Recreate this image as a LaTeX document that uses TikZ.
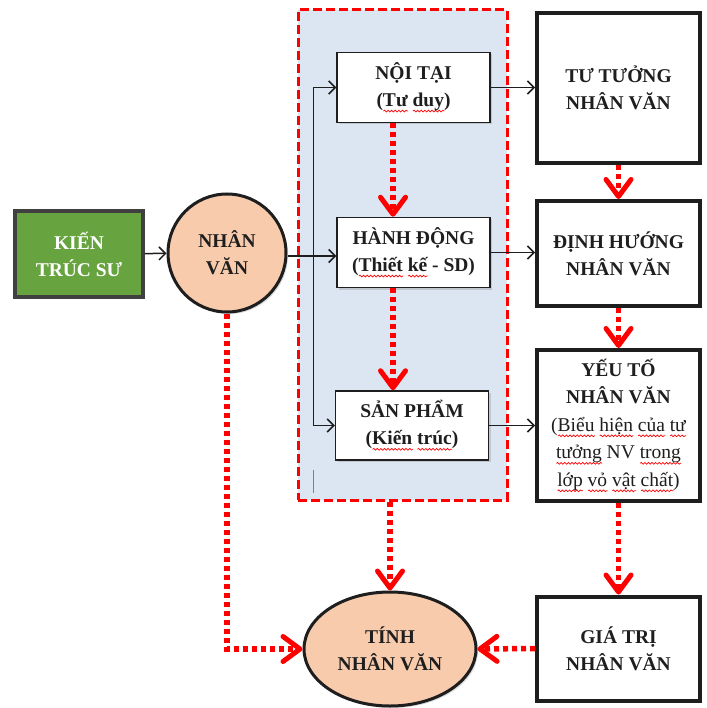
\documentclass[tikz,border=0pt]{standalone}
\usepackage{fontspec}
\setmainfont{Liberation Serif}
\usetikzlibrary{arrows.meta,shapes.geometric,shadows,decorations.pathmorphing}
\newsavebox\sqbox
\newlength\sqlen
\newcommand\sq[1]{\sbox\sqbox{#1}\setlength\sqlen{\wd\sqbox}\rlap{\tikz[baseline=0pt,x=1pt,y=1pt]\draw[red,line width=0.7pt,decorate,decoration={snake,amplitude=0.9pt,segment length=3.6pt}] (0,-4.5) -- (\sqlen,-4.5);}\usebox\sqbox}
\definecolor{kgreen}{HTML}{67A33F}
\definecolor{peach}{HTML}{F8CBAD}
\definecolor{pale}{HTML}{DCE6F2}
\definecolor{ink}{HTML}{1E1E1E}
\tikzset{
  basefont/.style={font=\fontsize{19.5}{27}\selectfont\bfseries, text=ink, align=center},
  shad/.style={drop shadow={opacity=0.3, shadow xshift=2pt, shadow yshift=-2pt}},
  innerbox/.style={basefont, shad, draw=ink, line width=1.5pt, fill=white, minimum width=153pt, minimum height=70pt, inner sep=0pt},
  outerbox/.style={basefont, shad, draw=ink, line width=4pt, fill=white, minimum width=163pt, inner sep=0pt},
  roundnode/.style={basefont, shad, draw=ink, line width=3pt, fill=peach, inner sep=0pt},
  redarrow/.style={draw=red, line width=5.5pt, dash pattern=on 5pt off 4pt, -{Straight Barb[length=17pt,width=25pt,round,line width=5pt]}},
  blackarrow/.style={draw=ink, line width=1.5pt, -{Straight Barb[length=6.5pt,width=13pt]}},
  blackline/.style={draw=ink, line width=1.5pt}
}
\begin{document}
\begin{tikzpicture}[x=1pt,y=-1pt]
\useasboundingbox (0,0) rectangle (706,708);
% group region
\node[draw=red, fill=pale, line width=3pt, dash pattern=on 9pt off 4pt, minimum width=209pt, minimum height=490pt, inner sep=0pt] (grp) at (402.5,255) {};
\draw[gray, line width=0.8pt] (313,470) -- (313,493);
% nodes
\node[basefont, shad, draw=ink!85, line width=4pt, fill=kgreen, text=white, minimum width=128pt, minimum height=86pt, inner sep=0pt] (kts) at (79,254) {KIẾN\\TRÚC SƯ};
\node[roundnode, circle, minimum size=118pt] (nv) at (227,253) {NHÂN\\VĂN};
\node[innerbox] (noitai) at (413.5,87.5) {NỘI TẠI\\(\sq{Tư} \sq{duy})};
\node[innerbox] (hanhdong) at (413.5,252.5) {HÀNH ĐỘNG\\(\sq{Thiết} \sq{kế} - SD)};
\node[innerbox, minimum height=69pt] (sanpham) at (412,425.5) {SẢN PHẨM\\(\sq{Kiến} \sq{trúc})};
\node[outerbox, minimum height=150pt] (tutuong) at (618.5,88) {TƯ TƯỞNG\\NHÂN VĂN};
\node[outerbox, minimum height=105pt] (dinhhuong) at (618.5,253.5) {ĐỊNH HƯỚNG\\NHÂN VĂN};
\node[outerbox, minimum height=151pt, font=\fontsize{19.5}{27.5}\selectfont] (yeuto) at (618.5,425.5) {\textbf{YẾU TỐ}\\\textbf{NHÂN VĂN}\\(\sq{Biểu} \sq{hiện} \sq{của} \sq{tư}\\\sq{tưởng} NV \sq{trong}\\\sq{lớp} \sq{vỏ} \sq{vật} \sq{chất})};
\node[outerbox, minimum height=104pt] (giatri) at (618.5,648.5) {GIÁ TRỊ\\NHÂN VĂN};
\node[roundnode, ellipse, minimum width=172pt, minimum height=114pt] (tinh) at (390,649) {TÍNH\\NHÂN VĂN};
% black connectors
\coordinate (split) at (313.5,256);
\draw[blackarrow] (kts) -- (nv);
\draw[blackline] (nv.east |- split) -- (split);
\draw[blackarrow] (split) |- (noitai.west);
\draw[blackarrow] (split) -- (split -| hanhdong.west);
\draw[blackarrow] (split) |- (sanpham.west);
\draw[blackarrow] (noitai.east) -- (noitai.east -| tutuong.west);
\draw[blackarrow] (hanhdong.east) -- (hanhdong.east -| dinhhuong.west);
\draw[blackarrow] (sanpham.east) -- (sanpham.east -| yeuto.west);
% red dotted connectors
\coordinate (dx) at (393,0);
\draw[redarrow] (noitai.south -| dx) -- (hanhdong.north -| dx);
\draw[redarrow] (hanhdong.south -| dx) -- (sanpham.north -| dx);
\draw[redarrow] (tutuong.south) -- (dinhhuong.north);
\draw[redarrow] (dinhhuong.south) -- (yeuto.north);
\draw[redarrow] (yeuto.south) -- (giatri.north);
\draw[redarrow] (grp.south -| tinh.north) -- (tinh.north);
\draw[redarrow] (nv.south) |- (tinh.west);
\draw[redarrow] (giatri.west) -- (tinh.east);
\end{tikzpicture}
\end{document}
